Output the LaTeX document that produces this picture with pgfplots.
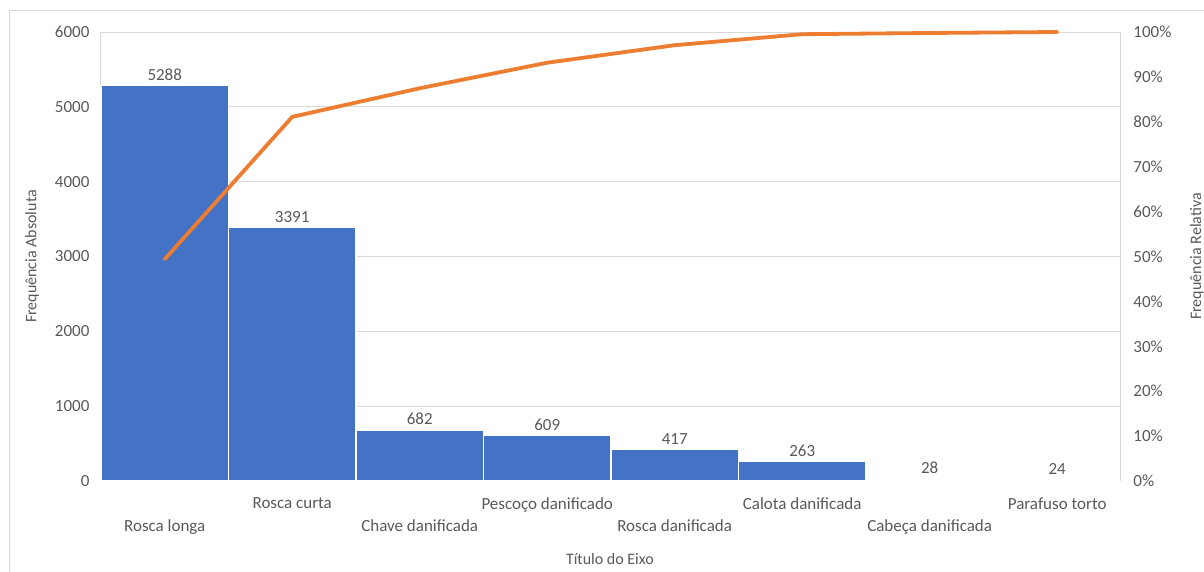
\documentclass[border=0pt]{standalone}
\usepackage{pgfplots}
\pgfplotsset{compat=1.18}
\usepackage{fontspec}
\setmainfont{Carlito}
\definecolor{barblue}{HTML}{4472C4}
\definecolor{lineorange}{HTML}{ED7D31}
\definecolor{gridgray}{HTML}{D9D9D9}
\definecolor{txtgray}{HTML}{595959}
\begin{document}
\begin{tikzpicture}[x=1pt,y=1pt]
\begin{axis}[
  at={(0pt,0pt)}, anchor=south west,
  scale only axis, width=1020pt, height=449pt,
  xmin=-0.5, xmax=7.5, ymin=0, ymax=6000,
  ytick={0,1000,...,6000},
  xtick={0,...,7},
  xticklabels={{~\\[11pt]Rosca longa},{Rosca curta},{~\\[11pt]Chave danificada},{Pescoço danificado},{~\\[11pt]Rosca danificada},{Calota danificada},{~\\[11pt]Cabeça danificada},{Parafuso torto}},
  xticklabel style={align=center, anchor=north, yshift=-13pt, font=\fontsize{17}{23}\selectfont},
  yticklabel style={xshift=-8pt},
  major tick length=0pt,
  ymajorgrids, grid style={gridgray, line width=1pt},
  axis line style={gridgray, line width=1pt},
  axis y line*=left, axis x line*=bottom,
  tick label style={txtgray},
  /pgf/number format/1000 sep={},
  /pgf/number format/assume math mode=true,
  font=\fontsize{17}{23}\selectfont,
  ylabel={Frequência Absoluta},
  ylabel style={at={(axis description cs:-0.0676,0.5)}, anchor=center, rotate=0, txtgray, font=\fontsize{16}{18}\selectfont},
  xlabel={Título do Eixo},
  xlabel style={at={(axis description cs:0.499,-0.1737)}, anchor=center, txtgray, font=\fontsize{16}{18}\selectfont},
  clip=false,
]
\addplot[ybar, bar width=1, bar shift=0pt, fill=barblue, draw=white, line width=1.2pt,
  nodes near coords, every node near coord/.style={font=\fontsize{17}{20}\selectfont, color=txtgray, anchor=south, yshift=1pt}]
  coordinates {(0,5288) (1,3391) (2,682) (3,609) (4,417) (5,263) (6,28) (7,24)};
\draw[gridgray, line width=1pt] (rel axis cs:0,1) -- (rel axis cs:1,1) -- (rel axis cs:1,0);
\end{axis}
\begin{axis}[
  at={(0pt,0pt)}, anchor=south west,
  scale only axis, width=1020pt, height=449pt,
  xmin=-0.5, xmax=7.5, ymin=0, ymax=100,
  ytick={0,10,...,100},
  yticklabel={\pgfmathprintnumber{\tick}\%},
  yticklabel style={xshift=9pt},
  axis y line*=right, axis x line=none,
  major tick length=0pt,
  axis line style={gridgray, line width=1pt},
  tick label style={txtgray},
  /pgf/number format/assume math mode=true,
  font=\fontsize{17}{23}\selectfont,
  ylabel={Frequência Relativa},
  ylabel style={at={(axis description cs:1.0745,0.5)}, anchor=center, rotate=0, txtgray, font=\fontsize{16}{18}\selectfont},
  clip=false,
]
\addplot[lineorange, line width=3.8pt, line join=round, line cap=round, mark=none]
  coordinates {(0,49.41) (1,81.10) (2,87.47) (3,93.16) (4,97.06) (5,99.51) (6,99.78) (7,100)};
\end{axis}
\draw[gridgray, line width=1pt] (-91pt,-100pt) -- (-91pt,470pt) -- (1110pt,470pt);
\pgfresetboundingbox
\path (-101pt,-90pt) rectangle (1103pt,481pt);
\end{tikzpicture}
\end{document}
